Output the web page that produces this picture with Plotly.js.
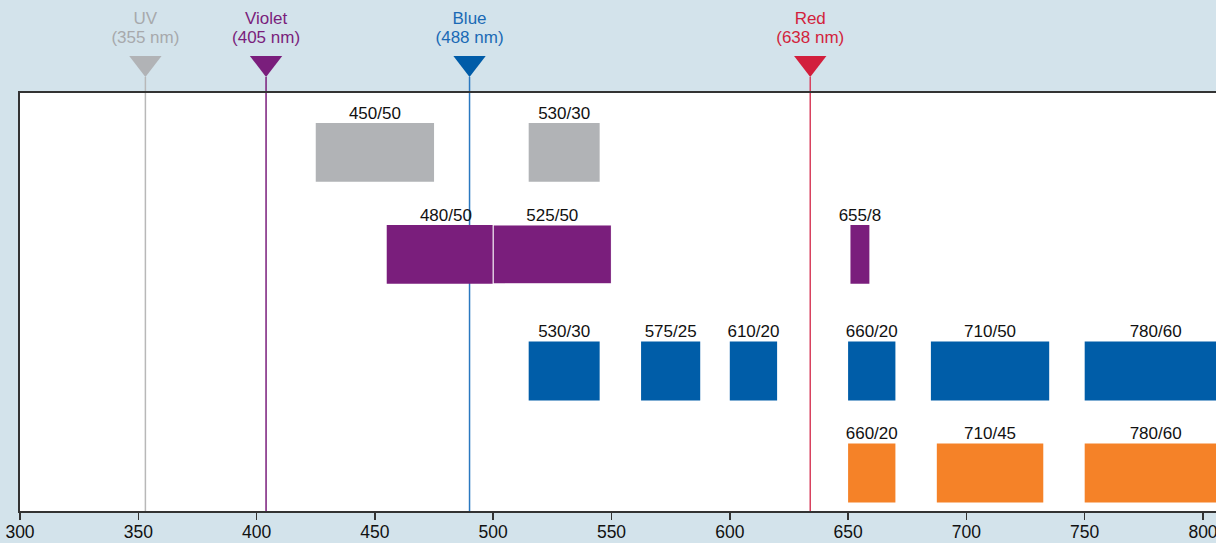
<!DOCTYPE html>
<html>
<head>
<meta charset="utf-8">
<script src="https://cdn.plot.ly/plotly-3.0.1.min.js"></script>
<style>html,body{margin:0;padding:0;background:#d3e3eb;}#chart{width:1216px;height:543px;}</style>
</head>
<body>
<div id="chart"></div>
<script>
// Lasers
const laserNames = ['UV', 'Violet', 'Blue', 'Red'];
const laserNm = [355, 405, 488, 638];          // nominal wavelength (label)
const laserDrawnAt = [353, 404, 490, 634];     // where the line sits in the picture
const laserColors = ['#b1b3b6', '#7a1e7c', '#005ca8', '#d21f3c'];
const laserTextColors = ['#a7a9ac', '#7a1e7c', '#1a6ab5', '#d21f3c'];
const laserLineColors = ['#b8b8b8', '#7a1e7c', '#2a78c0', '#d8405e'];

// Filters (center/bandwidth) per laser row
const filterLaser = ['UV','UV','Violet','Violet','Violet','Blue','Blue','Blue','Blue','Blue','Blue','Red','Red','Red'];
const filterCenter = [450, 530, 480, 525, 655, 530, 575, 610, 660, 710, 780, 660, 710, 780];
const filterBand   = [50, 30, 50, 50, 8, 30, 25, 20, 20, 50, 60, 20, 45, 60];

// layout mapping (vertical rows)
const rowY = {UV: 85.8, Violet: 61.4, Blue: 33.5, Red: 9.1};
const barH = 14.1;
const barColor = {UV: '#b1b3b6', Violet: '#7a1e7c', Blue: '#005da8', Red: '#f58228'};

const FONT = 'Liberation Sans, Arial, Helvetica, sans-serif';
const H = 543, B = 32, PLOT_TOP = 93, TIP = 77;
const areaH = H - B;                       // paper height (t = 0)
const mainTop = (areaH - PLOT_TOP) / areaH; // domain top of main plot
const traces = [];

// filter bars
const lineW = filterCenter.map((c, i) => (filterCenter[i] === 525 && filterLaser[i] === 'Violet') ? 1.2 : 0);
traces.push({
  type: 'bar', orientation: 'h',
  x: filterBand, base: filterCenter.map((c, i) => c - filterBand[i] / 2),
  y: filterLaser.map(l => rowY[l]), width: filterLaser.map(() => barH),
  marker: {color: filterLaser.map(l => barColor[l]), line: {color: 'rgba(255,255,255,0.95)', width: lineW}},
  hoverinfo: 'skip', showlegend: false
});
// filter labels
traces.push({
  type: 'scatter', mode: 'text',
  x: filterCenter, y: filterLaser.map(l => rowY[l] + barH / 2),
  text: filterCenter.map((c, i) => c + '/' + filterBand[i]), textposition: 'top center',
  textfont: {family: FONT, size: 17, color: '#111'},
  cliponaxis: false, hoverinfo: 'skip', showlegend: false
});
// header subplot (y2 in [0,1] over the top band, 0 = plot top, 1 = figure top)
const pxToY2 = px => (PLOT_TOP - px) / PLOT_TOP;
traces.push({
  type: 'scatter', mode: 'markers', xaxis: 'x', yaxis: 'y2',
  x: laserDrawnAt, y: laserDrawnAt.map(() => pxToY2(63)),
  marker: {symbol: 'triangle-down', size: 28, color: laserColors, line: {width: 0}},
  cliponaxis: false, hoverinfo: 'skip', showlegend: false
});
traces.push({
  type: 'scatter', mode: 'text', xaxis: 'x', yaxis: 'y2',
  x: laserDrawnAt, y: laserDrawnAt.map(() => pxToY2(20)),
  text: laserNames, textposition: 'middle center',
  textfont: {family: FONT, size: 17, color: laserTextColors},
  cliponaxis: false, hoverinfo: 'skip', showlegend: false
});
traces.push({
  type: 'scatter', mode: 'text', xaxis: 'x', yaxis: 'y2',
  x: laserDrawnAt, y: laserDrawnAt.map(() => pxToY2(39)),
  text: laserNm.map(v => '(' + v + ' nm)'), textposition: 'middle center',
  textfont: {family: FONT, size: 17, color: laserTextColors},
  cliponaxis: false, hoverinfo: 'skip', showlegend: false
});

// white plot background + laser lines as shapes below the bars
const shapes = [{
  type: 'rect', xref: 'x domain', yref: 'y domain', x0: 0, x1: 1, y0: 0, y1: 1,
  fillcolor: '#ffffff', line: {width: 0}, layer: 'below'
}].concat(laserDrawnAt.map((x, i) => ({
  type: 'line', xref: 'x', yref: 'paper', x0: x, x1: x, y0: 0, y1: (areaH - TIP) / areaH,
  line: {color: laserLineColors[i], width: 1.5}, layer: 'below'
})));

const layout = {
  width: 1216, height: H,
  margin: {l: 20, r: 0, t: 0, b: B, pad: 0},
  paper_bgcolor: '#d3e3eb', plot_bgcolor: 'rgba(0,0,0,0)',
  font: {family: FONT, size: 17, color: '#111'},
  showlegend: false, bargap: 0,
  shapes: shapes,
  xaxis: {
    range: [300, 805.5], tick0: 300, dtick: 50, ticks: 'outside', ticklen: 7, tickwidth: 1.5, tickcolor: '#333',
    showline: true, linecolor: '#333', linewidth: 2, mirror: true, showgrid: false, zeroline: false,
    ticklabeloverflow: 'allow', anchor: 'y', ticklabelstandoff: -3,
    tickfont: {family: FONT, size: 17.5, color: '#111'}, fixedrange: true
  },
  yaxis: {
    domain: [0, mainTop],
    range: [0, 100], showticklabels: false, ticks: '', showgrid: false, zeroline: false,
    showline: true, linecolor: '#333', linewidth: 2, fixedrange: true
  },
  yaxis2: {
    domain: [mainTop, 1], anchor: 'x', range: [0, 1], visible: false, fixedrange: true
  }
};

Plotly.newPlot('chart', traces, layout, {displayModeBar: false, staticPlot: true});
</script>
</body>
</html>
